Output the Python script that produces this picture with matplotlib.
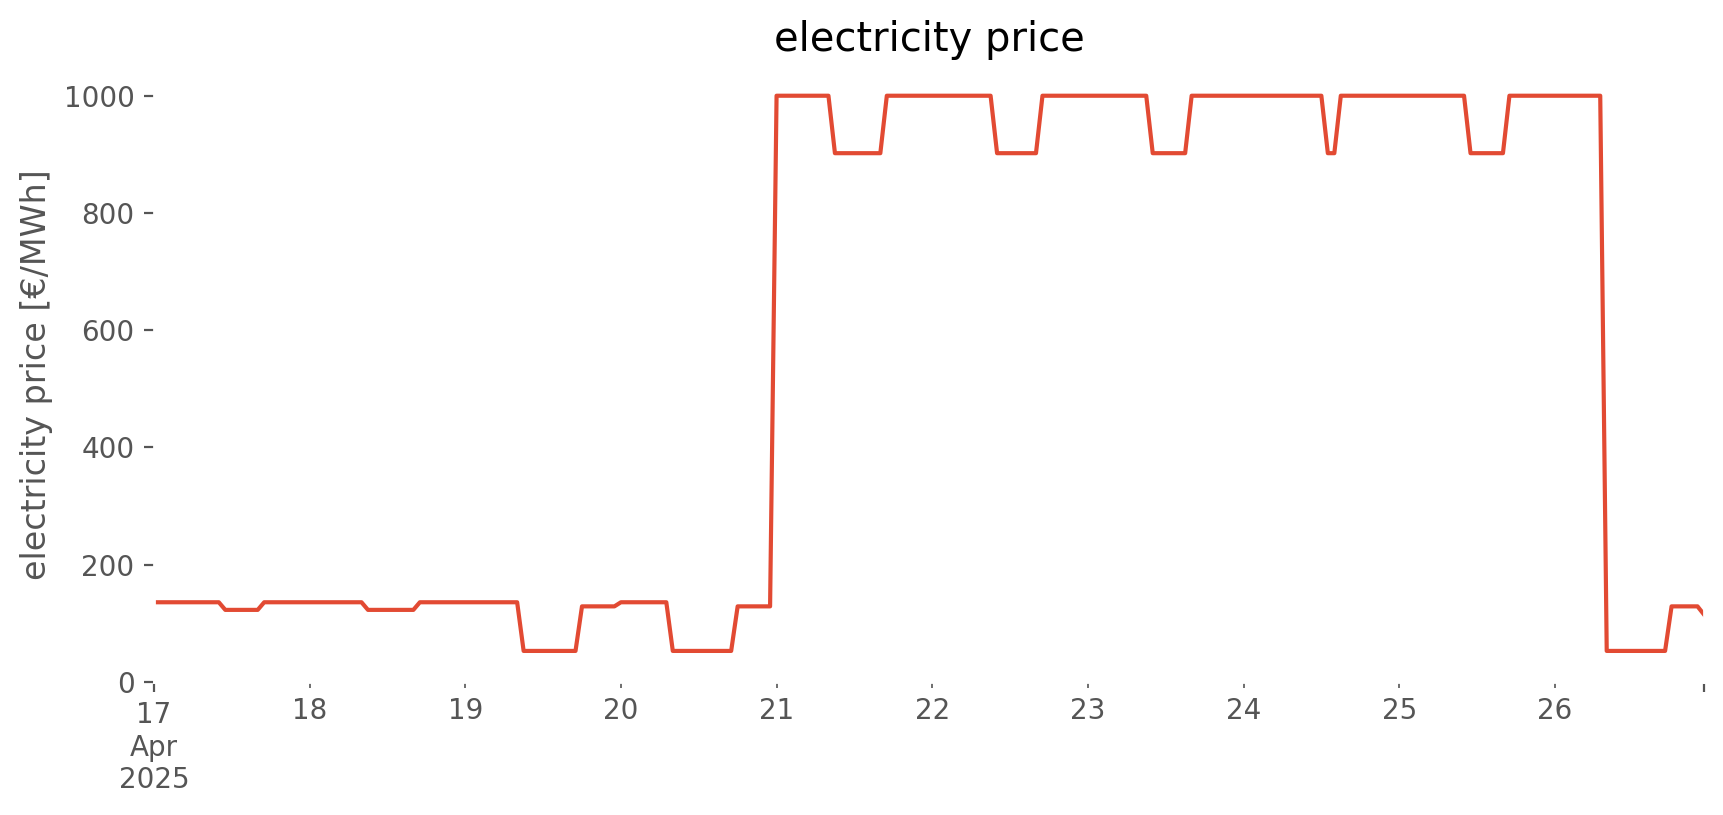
import numpy as np
import pandas as pd
import matplotlib
matplotlib.use("Agg")
import matplotlib.pyplot as plt

# hourly electricity price, stored as runs of (price, number of hours)
price_levels = [136, 123, 136, 123, 136, 53, 129, 136, 53, 129,
                1000, 902, 1000, 902, 1000, 902, 1000, 902, 1000, 902, 1000,
                53, 129, 115]
hours_at_level = [11, 6, 16, 8, 16, 9, 6, 8, 10, 6,
                  9, 8, 17, 7, 17, 6, 21, 2, 20, 6, 15,
                  10, 5, 1]
start = "2025-04-17 00:00"
day_labels = ["18", "19", "20", "21", "22", "23", "24", "25", "26"]

price = np.repeat(price_levels, hours_at_level).astype(float)
idx = pd.date_range(start, periods=len(price), freq="h")
s = pd.Series(price, index=idx)

plt.style.use("ggplot")
fig = plt.figure(figsize=(8.62, 4.075), dpi=200)
ax = fig.add_axes([0.0893, 0.1632, 0.9884 - 0.0893, 0.9166 - 0.1632])
ax.set_facecolor("white")
ax.grid(False)

ax.plot(s.index, s.values, color="#E24A33", lw=1.5)
ax.set_xlim(s.index[0], s.index[-1])
ax.set_ylim(bottom=0)

days = pd.date_range("2025-04-18", periods=len(day_labels), freq="D")
ax.set_xticks([s.index[0], s.index[-1]])
ax.set_xticklabels(["17\nApr\n2025", ""])
ax.set_xticks(days, minor=True)
ax.set_xticklabels(day_labels, minor=True)
ax.tick_params(axis="x", which="minor", length=2, labelsize=10, colors="#555555")
ax.tick_params(axis="x", which="major", length=3.5, labelsize=10, colors="#555555")
ax.set_yticks([0, 200, 400, 600, 800, 1000])

ax.set_title("electricity price")
ax.set_ylabel("electricity price [€/MWh]")

fig.savefig("out.png", dpi=200)
